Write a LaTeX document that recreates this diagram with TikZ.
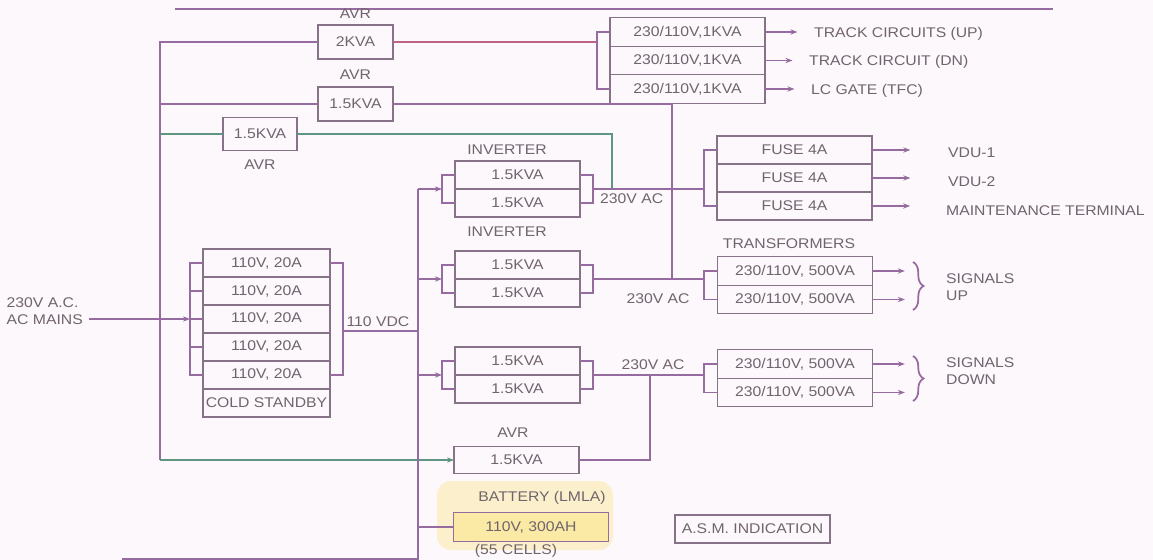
\documentclass[tikz,border=0pt]{standalone}
\usepackage{fontspec}
\setmainfont[FakeStretch=1.12]{Liberation Sans}
\usetikzlibrary{positioning,arrows.meta,decorations.pathreplacing}

\definecolor{paper}{RGB}{253,248,251}
\definecolor{wirec}{RGB}{150,108,160}
\definecolor{boxc}{RGB}{135,115,135}
\definecolor{avrgreen}{RGB}{95,150,130}
\definecolor{avrred}{RGB}{190,100,130}
\definecolor{inkc}{RGB}{112,100,110}
\definecolor{battyel}{RGB}{250,234,165}

\begin{document}
\begin{tikzpicture}[x=0.02cm,y=-0.02cm,
    every node/.style={font=\fontsize{8}{9.5}\selectfont, text=inkc},
    cell/.style={draw=boxc, line width=0.8pt, inner sep=0pt, outer sep=0pt,
        minimum width=3.1cm, minimum height=0.57cm},
    invcell/.style={cell, minimum width=2.5cm, minimum height=0.56cm},
    chgcell/.style={cell, minimum width=2.54cm, minimum height=0.56cm},
    avrbox/.style={cell, minimum width=1.5cm, minimum height=0.68cm},
    wire/.style={draw=wirec, line width=1pt},
    gwire/.style={draw=avrgreen, line width=1pt},
    rwire/.style={draw=avrred, line width=1pt},
    feed/.style={wire, -{Stealth[length=4pt,width=3pt]}},
    gfeed/.style={gwire, -{Stealth[length=4pt,width=3pt]}},
    loadbrace/.style={wire, line width=1pt, decorate, decoration={brace, amplitude=6pt}}]

    \fill[paper] (0,0) rectangle (1153,560);
    \useasboundingbox (0,0) rectangle (1153,560);
    % cut edges of the sheet
    \draw[wire] (175,9) -- (1053,9);
    \draw[wire] (122,559) -- (418,559);

    % AVRs on the mains bus
    \node[avrbox] (avrA) at (355.5,42) {2KVA};
    \node[above=0pt of avrA] (avrAlbl) {AVR};
    \node[avrbox] (avrB) at (355.5,104) {1.5KVA};
    \node[above=1pt of avrB] (avrBlbl) {AVR};
    \node[avrbox, minimum width=1.48cm, minimum height=0.66cm] (avrC) at (260,134) {1.5KVA};
    \node[below=2pt of avrC] (avrClbl) {AVR};

    % track circuit transformers
    \node[cell] (tc1) at (687.5,32) {230/110V,1KVA};
    \node[cell, below=0pt of tc1] (tc2) {230/110V,1KVA};
    \node[cell, below=0pt of tc2] (tc3) {230/110V,1KVA};
    \node[anchor=west] (tcup) at (808,34) {TRACK CIRCUITS (UP)};
    \node[anchor=west] (tcdn) at (803,62) {TRACK CIRCUIT (DN)};
    \node[anchor=west] (lcgate) at (805,91) {LC GATE (TFC)};

    % fuses
    \node[cell, minimum height=0.56cm] (fu1) at (794.5,150) {FUSE 4A};
    \node[cell, minimum height=0.56cm, below=0pt of fu1] (fu2) {FUSE 4A};
    \node[cell, minimum height=0.56cm, below=0pt of fu2] (fu3) {FUSE 4A};
    \node[anchor=west] (vdu1) at (942,153) {VDU-1};
    \node[anchor=west] (vdu2) at (942,182) {VDU-2};
    \node[anchor=west] (mterm) at (940,211) {MAINTENANCE TERMINAL};

    % inverters
    \node (inv1lbl) at (507,150) {INVERTER};
    \node[invcell] (inv1a) at (517.5,175) {1.5KVA};
    \node[invcell, below=0pt of inv1a] (inv1b) {1.5KVA};
    \node (inv2lbl) at (507,232) {INVERTER};
    \node[invcell] (inv2a) at (517.5,265) {1.5KVA};
    \node[invcell, below=0pt of inv2a] (inv2b) {1.5KVA};
    \node[invcell] (inv3a) at (517.5,361) {1.5KVA};
    \node[invcell, below=0pt of inv3a] (inv3b) {1.5KVA};

    % signal transformers
    \node (trlbl) at (789,244) {TRANSFORMERS};
    \node[cell] (trU1) at (795,271) {230/110V, 500VA};
    \node[cell, below=0pt of trU1] (trU2) {230/110V, 500VA};
    \node[cell] (trD1) at (795,364) {230/110V, 500VA};
    \node[cell, below=0pt of trD1] (trD2) {230/110V, 500VA};
    \node[anchor=west, align=left] (sigup) at (940,287) {SIGNALS\\UP};
    \node[anchor=west, align=left] (sigdn) at (940,371) {SIGNALS\\DOWN};

    % battery chargers
    \node[align=left, anchor=east] (mains) at (89,311) {230V A.C.\\AC MAINS};
    \node[chgcell] (ch1) at (266.5,263) {110V, 20A};
    \foreach \i [count=\j from 2] in {1,...,4}
        \node[chgcell, below=0pt of ch\i] (ch\j) {110V, 20A};
    \node[chgcell, below=0pt of ch5] (chS) {COLD STANDBY};
    \node (vdc) at (378,322) {110 VDC};

    % AVR and battery on the DC side
    \node (avrDlbl) at (513,433) {AVR};
    \node[invcell, minimum height=0.54cm] (avrD) at (516.5,460) {1.5KVA};
    \fill[battyel, fill opacity=0.55, rounded corners=8] (437,481) rectangle (613,550);
    \node (batlbl) at (542,498) {BATTERY (LMLA)};
    \node[cell, draw=wirec, fill=battyel] (bat) at (531,527) {110V, 300AH};
    \node (batcells) at (516,551) {(55 CELLS)};
    \node[cell, minimum height=0.56cm] (asm) at (752.5,529) {A.S.M. INDICATION};

    % bus points
    \coordinate (lbtop) at (160,42);
    \coordinate (lbbot) at (160,460);
    \coordinate (chbrin) at (190,319);
    \coordinate (chbrout) at (343,331);
    \coordinate (dctop) at (418,189);
    \coordinate (dcbot) at (418,560);
    \coordinate (tcbr) at (597,42);
    \coordinate (inv1in) at (442,189);
    \coordinate (inv2in) at (442,279);
    \coordinate (inv3in) at (442,375);
    \coordinate (inv1out) at (593,189);
    \coordinate (inv2out) at (593,279);
    \coordinate (inv3out) at (593,375);
    \coordinate (fubr) at (704,189);
    \coordinate (trUbr) at (704,279);
    \coordinate (trDbr) at (704,375);
    \coordinate (acjoin1) at (612,189);
    \coordinate (acjoin2) at (672,279);
    \coordinate (acjoin3) at (650,375);

    % mains bus and AVR feeds
    \draw[wire] (avrA.west) -| (lbbot);
    \draw[wire] (avrB.west) -- (avrB.west -| lbtop);
    \draw[gwire] (avrC.west) -- (avrC.west -| lbtop);
    \draw[gfeed] (lbbot) -- (avrD.west);
    \draw[rwire] (avrA.east) -- (tcbr);
    \draw[wire] (tc1.west) -- (tc1.west -| tcbr) -- (tc3.west -| tcbr) -- (tc3.west);
    \draw[feed, shorten >=6pt] (tc1.east) -- (tc1.east -| tcup.west);
    \draw[feed, shorten >=6pt] (tc2.east) -- (tc2.east -| tcdn.west);
    \draw[feed, shorten >=6pt] (tc3.east) -- (tc3.east -| lcgate.west);
    \draw[wire] (avrB.east) -| (acjoin2);
    \draw[gwire] (avrC.east) -| (acjoin1);

    % chargers
    \draw[feed] (mains.east |- chbrin) -- (chbrin);
    \draw[wire] (ch1.west) -- (ch1.west -| chbrin) -- (ch5.west -| chbrin) -- (ch5.west);
    \foreach \i in {2,3,4}
        \draw[wire] (ch\i.west) -- (ch\i.west -| chbrin);
    \draw[wire] (ch1.east) -- (ch1.east -| chbrout) -- (ch5.east -| chbrout) -- (ch5.east);
    \draw[wire] (chbrout) -- (chbrout -| dctop);
    \draw[wire] (dctop) -- (dcbot);

    % inverters in parallel pairs
    \foreach \k in {1,2,3} {
        \draw[feed] (inv\k in -| dctop) -- (inv\k in);
        \draw[wire] (inv\k a.west) -- (inv\k a.west -| inv\k in) -- (inv\k b.west -| inv\k in) -- (inv\k b.west);
        \draw[wire] (inv\k a.east) -- (inv\k a.east -| inv\k out) -- (inv\k b.east -| inv\k out) -- (inv\k b.east);
    }
    \draw[wire] (inv1out) -- (fubr);
    \draw[wire] (inv2out) -- (trUbr);
    \draw[wire] (inv3out) -- (trDbr);
    \node[anchor=west] (ac1) at (594,199) {230V AC};
    \node (ac2) at (658,299) {230V AC};
    \node (ac3) at (653,365) {230V AC};
    \draw[wire] (avrD.east) -| (acjoin3);

    % loads
    \draw[wire] (fu1.west) -- (fu1.west -| fubr) -- (fu3.west -| fubr) -- (fu3.west);
    \draw[feed, shorten >=18pt] (fu1.east) -- (fu1.east -| vdu1.west);
    \draw[feed, shorten >=18pt] (fu2.east) -- (fu2.east -| vdu2.west);
    \draw[feed, shorten >=17pt] (fu3.east) -- (fu3.east -| mterm.west);
    \draw[wire] (trU1.west) -- (trU1.west -| trUbr) -- (trU2.west -| trUbr) -- (trU2.west);
    \draw[wire] (trD1.west) -- (trD1.west -| trDbr) -- (trD2.west -| trDbr) -- (trD2.west);
    \draw[loadbrace] (913,262) -- (913,310);
    \draw[loadbrace] (913,356) -- (913,401);
    \draw[feed, shorten >=20pt] (trU1.east) -- (trU1.east -| sigup.west);
    \draw[feed, shorten >=20pt] (trU2.east) -- (trU2.east -| sigup.west);
    \draw[feed, shorten >=20pt] (trD1.east) -- (trD1.east -| sigdn.west);
    \draw[feed, shorten >=20pt] (trD2.east) -- (trD2.east -| sigdn.west);
    \draw[wire] (bat.west -| dctop) -- (bat.west);
\end{tikzpicture}
\end{document}
